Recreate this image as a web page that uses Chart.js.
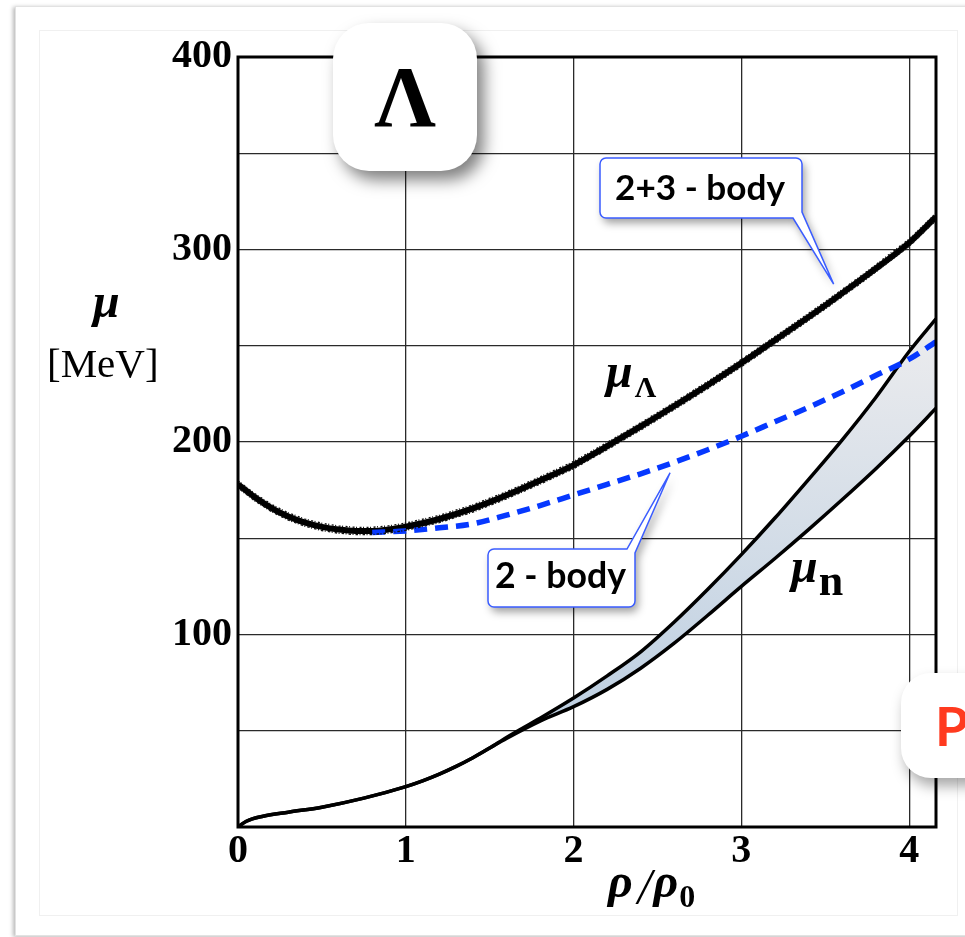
<!DOCTYPE html>
<html>
<head>
<meta charset="utf-8">
<script src="https://cdn.jsdelivr.net/npm/chart.js@4.4.1/dist/chart.umd.min.js"></script>
<style>
  html, body { margin: 0; padding: 0; background: #fff; }
  body { width: 965px; height: 937px; position: relative; overflow: hidden; }
  #card { position: absolute; left: 15px; top: 6px; width: 980px; height: 928px; background: #fff;
          border: 1px solid #e2e2e2; box-shadow: -2px 1px 4px rgba(0,0,0,0.28); }
  #inner { position: absolute; left: 39px; top: 30px; width: 917px; height: 884px; border: 1px solid #f0f0f0; }
  #chart { position: absolute; left: 0; top: 0; }
  .badge { position: absolute; background: #fff; border-radius: 36px; text-align: center; }
  #lam { left: 333px; top: 23px; width: 144px; height: 148px; box-shadow: 7px 9px 16px rgba(0,0,0,0.5);
         font: bold 86px "Liberation Serif", serif; line-height: 148px; color: #000; }
  #pee { left: 901px; top: 673px; width: 110px; height: 105px; border-radius: 30px; box-shadow: 4px 8px 14px rgba(0,0,0,0.35);
         font: bold 54px Lato, sans-serif; color: #ff3a1f; line-height: 105px; text-align: left; padding-left: 34px; box-sizing: border-box; }
</style>
</head>
<body>
<div id="card"></div>
<div id="inner"></div>
<canvas id="chart" width="965" height="937"></canvas>
<div id="lam" class="badge">Λ</div>
<div id="pee" class="badge">P</div>
<script>
// density grid (rho / rho0) and chemical potentials in MeV
const lambdaX = [0, 0.1, 0.2, 0.3, 0.4, 0.5, 0.6, 0.7, 0.8, 0.9, 1.0, 1.2, 1.4, 1.6, 1.8, 2.0, 2.2, 2.4, 2.6, 2.8, 3.0, 3.25, 3.5, 3.75, 4.0, 4.16];
const lambdaMu = [178, 171.3, 165.7, 161.3, 158.1, 155.9, 154.5, 153.8, 153.8, 154.6, 156, 160, 165.5, 172.3, 180, 188, 197.9, 208.1, 218.7, 229.6, 241, 255.9, 271, 286.8, 303.5, 317];

const twoBodyX = [0.8, 1.0, 1.2, 1.4, 1.6, 1.8, 2.0, 2.2, 2.4, 2.6, 2.8, 3.0, 3.2, 3.4, 3.6, 3.8, 4.0, 4.16];
const twoBodyMu = [153, 153.8, 155.4, 157.5, 162, 167, 172.5, 178, 183.5, 189.5, 196, 203, 210.5, 218, 226, 234.5, 243, 252];

const neutronX = [0, 0.05, 0.15, 0.3, 0.5, 0.75, 1.0, 1.1, 1.2, 1.3, 1.4, 1.5, 1.6, 1.8, 2.0, 2.2, 2.4, 2.6, 2.8, 3.0, 3.2, 3.4, 3.6, 3.8, 4.0, 4.16];
const neutronUpper = [0, 3, 5.6, 7.7, 10.3, 15, 21, 24, 27.5, 31.5, 36, 41, 46.5, 56.5, 67, 78.5, 91, 106.5, 123.5, 141.5, 160.5, 180.5, 201, 223, 247, 264];
const neutronLower = [0, 3, 5.6, 7.7, 10.3, 15, 21, 24, 27.5, 31.5, 36, 41, 46, 55, 62.5, 71.5, 82.5, 95.5, 110, 125, 139.5, 154.5, 170, 186, 203, 217.5];

const xTicks = [0, 1, 2, 3, 4];
const xLabels = ['0', '1', '2', '3', '4'];
const yTicks = [0, 50, 100, 150, 200, 250, 300, 350, 400];
const yLabels = ['', '', '100', '', '200', '', '300', '', '400'];

const pts = (xs, ys) => xs.map((x, i) => ({ x: x, y: ys[i] }));
const tickFont = { family: '"Liberation Serif", serif', weight: 'bold', size: 40 };

function bandFill(ctx) {
  const chart = ctx.chart;
  if (!chart.chartArea) return '#d0dbe6';
  const y = chart.scales.y;
  const g = chart.ctx.createLinearGradient(0, y.getPixelForValue(260), 0, y.getPixelForValue(30));
  g.addColorStop(0, '#ececee');
  g.addColorStop(1, '#b8cce0');
  return g;
}

// rough, chalky edge on the 2+3-body curve
const roughEdge = {
  id: 'roughEdge',
  afterDatasetsDraw(chart) {
    const meta = chart.getDatasetMeta(1);
    const c = chart.ctx;
    c.save();
    c.beginPath();
    c.rect(chart.chartArea.left, chart.chartArea.top, chart.chartArea.width, chart.chartArea.height);
    c.clip();
    c.strokeStyle = '#111';
    c.lineWidth = 1.4;
    [[-3.6, [2, 1.5, 1, 2.5]], [3.6, [1, 2, 2.5, 1.5]]].forEach(([off, dash]) => {
      c.setLineDash(dash);
      c.beginPath();
      meta.data.forEach((p, i) => { if (i === 0) c.moveTo(p.x, p.y + off); else c.lineTo(p.x, p.y + off); });
      c.stroke();
    });
    c.restore();
  }
};

function callout(c, box, tip, side, text) {
  const [x0, y0, x1, y1] = box;
  const r = 6;
  c.beginPath();
  c.moveTo(x0 + r, y0);
  if (side === 'top') {
    c.lineTo(x1 - 8, y0);
    c.lineTo(tip[0], tip[1]);
    c.lineTo(x1, y0 + 4);
    c.lineTo(x1, y1 - r);
    c.arcTo(x1, y1, x1 - r, y1, r);
  } else {
    c.lineTo(x1 - r, y0);
    c.arcTo(x1, y0, x1, y0 + r, r);
    c.lineTo(x1, y1 - 6);
    c.lineTo(tip[0], tip[1]);
    c.lineTo(x1 - 9, y1);
  }
  c.lineTo(x0 + r, y1);
  c.arcTo(x0, y1, x0, y1 - r, r);
  c.lineTo(x0, y0 + r);
  c.arcTo(x0, y0, x0 + r, y0, r);
  c.closePath();
  c.save();
  c.shadowColor = 'rgba(0,0,0,0.38)';
  c.shadowBlur = 9;
  c.shadowOffsetX = 3;
  c.shadowOffsetY = 5;
  c.fillStyle = '#fff';
  c.fill();
  c.restore();
  c.strokeStyle = '#3a5cff';
  c.lineWidth = 1.5;
  c.stroke();
  c.fillStyle = '#000';
  c.font = 'bold ' + text.size + 'px Lato, sans-serif';
  const w = c.measureText(text.s).width;
  const size = text.size * text.w / w;
  c.font = 'bold ' + size + 'px Lato, sans-serif';
  c.textBaseline = 'alphabetic';
  c.textAlign = 'left';
  c.fillText(text.s, text.x, text.y);
}

function runText(c, parts) {
  let x = parts.x;
  parts.items.forEach(it => {
    c.font = it.font;
    if (it.dx) x += it.dx;
    c.fillText(it.s, x, it.y);
    x += c.measureText(it.s).width;
  });
}

const overlay = {
  id: 'overlay',
  afterDraw(chart) {
    const c = chart.ctx;
    const a = chart.chartArea;
    const xs = chart.scales.x, ys = chart.scales.y;
    c.save();
    // plot frame
    c.strokeStyle = '#000';
    c.lineWidth = 3;
    c.setLineDash([]);
    c.strokeRect(a.left, a.top, a.right - a.left, a.bottom - a.top);

    // callouts
    callout(c, [600, 158, 802, 218], [xs.getPixelForValue(3.55), ys.getPixelForValue(282)], 'bottom',
      { s: '2+3 - body', x: 615, y: 200, w: 170, size: 32 });
    callout(c, [488, 549, 635, 607], [xs.getPixelForValue(2.575), ys.getPixelForValue(184)], 'top',
      { s: '2 - body', x: 495, y: 588, w: 131, size: 32 });

    // labels
    c.fillStyle = '#000';
    c.textAlign = 'left';
    c.textBaseline = 'alphabetic';
    const bi = s => 'italic bold ' + s + 'px "Liberation Serif", serif';
    const b = s => 'bold ' + s + 'px "Liberation Serif", serif';
    runText(c, { x: 93, items: [{ s: 'μ', font: bi(48), y: 317 }] });
    runText(c, { x: 47, items: [{ s: '[MeV]', font: '41px "Liberation Serif", serif', y: 377 }] });
    runText(c, { x: 606, items: [{ s: 'μ', font: bi(48), y: 387 }, { s: 'Λ', font: b(30), y: 397, dx: 2 }] });
    runText(c, { x: 791, items: [{ s: 'μ', font: bi(48), y: 582 }, { s: 'n', font: b(44), y: 595, dx: 1 }] });
    runText(c, { x: 608, items: [
      { s: 'ρ', font: bi(48), y: 897 },
      { s: '/', font: 'italic 50px "Liberation Serif", serif', y: 903, dx: 5 },
      { s: 'ρ', font: bi(48), y: 897, dx: 2 },
      { s: '0', font: b(32), y: 907, dx: 1 }
    ] });
    c.restore();
  }
};

new Chart(document.getElementById('chart'), {
  type: 'line',
  data: {
    datasets: [
      { data: pts(twoBodyX, twoBodyMu), borderColor: '#0638ff', borderWidth: 5.5, borderDash: [13, 8],
        pointRadius: 0, fill: false, cubicInterpolationMode: 'monotone' },
      { data: pts(lambdaX, lambdaMu), borderColor: '#000', borderWidth: 6,
        pointRadius: 0, fill: false, cubicInterpolationMode: 'monotone' },
      { data: pts(neutronX, neutronUpper), borderColor: '#000', borderWidth: 3.5,
        pointRadius: 0, fill: '+1', backgroundColor: bandFill, cubicInterpolationMode: 'monotone' },
      { data: pts(neutronX, neutronLower), borderColor: '#000', borderWidth: 3.5,
        pointRadius: 0, fill: false, cubicInterpolationMode: 'monotone' }
    ]
  },
  options: {
    responsive: false,
    animation: false,
    events: [],
    layout: { padding: { left: 0, top: 57, right: 29, bottom: 0 } },
    plugins: { legend: { display: false }, tooltip: { enabled: false }, filler: { drawTime: 'beforeDatasetsDraw' } },
    scales: {
      x: {
        type: 'linear', min: 0, max: 4.16,
        afterBuildTicks: s => { s.ticks = xTicks.map(v => ({ value: v })); },
        afterFit: s => { s.height = 110; },
        ticks: { callback: (v, i) => xLabels[i], font: tickFont, color: '#000', padding: 1, maxRotation: 0, autoSkip: false },
        grid: { color: '#2a2a2a', lineWidth: 1.3, drawTicks: false },
        border: { display: false }
      },
      y: {
        type: 'linear', min: 0, max: 400,
        afterBuildTicks: s => { s.ticks = yTicks.map(v => ({ value: v })); },
        afterFit: s => { s.width = 238; },
        ticks: { callback: (v, i) => yLabels[i], font: tickFont, color: '#000', padding: 6, autoSkip: false },
        grid: { color: '#2a2a2a', lineWidth: 1.3, drawTicks: false },
        border: { display: false }
      }
    }
  },
  plugins: [roughEdge, overlay]
});
</script>
</body>
</html>
